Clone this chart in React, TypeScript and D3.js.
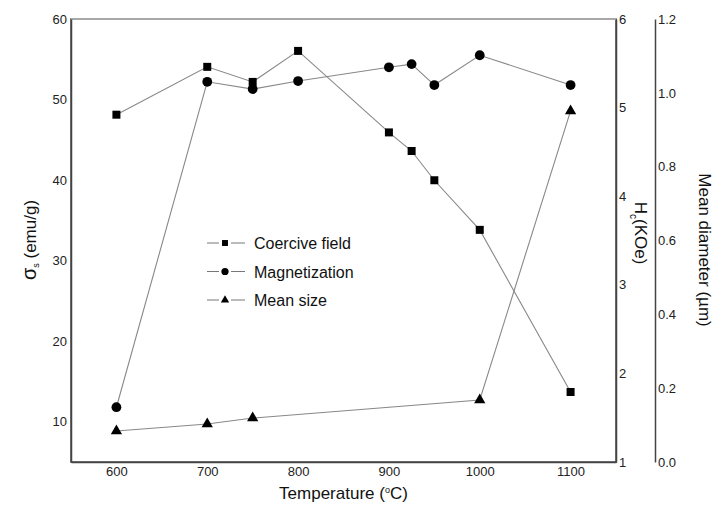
import * as d3 from 'd3';
import React, { useRef, useEffect } from 'react';

// temperatures (°C)
const tempsHc = [600, 700, 750, 800, 900, 925, 950, 1000, 1100];
const coerciveField = [4.92, 5.46, 5.29, 5.64, 4.72, 4.51, 4.18, 3.62, 1.79];

const tempsMs = [600, 700, 750, 800, 900, 925, 950, 1000, 1100];
const magnetization = [11.8, 52.2, 51.3, 52.3, 54.0, 54.4, 51.8, 55.5, 51.8];

const tempsSize = [600, 700, 750, 1000, 1100];
const meanSize = [0.084, 0.103, 0.119, 0.168, 0.951];

const xTicks = [600, 700, 800, 900, 1000, 1100];
const leftTicks = [10, 20, 30, 40, 50, 60];
const hcTicks = [1, 2, 3, 4, 5, 6];
const sizeTicks = [0, 0.2, 0.4, 0.6, 0.8, 1.0, 1.2];
const legendLabels = ['Coercive field', 'Magnetization', 'Mean size'];

const App = () => {
  const ref = useRef(null);

  useEffect(() => {
    const svg = d3.select(ref.current);
    svg.selectAll('*').remove();

    const margin = { top: 19, left: 71 };
    const w = 545;
    const h = 443;
    const font = 'Liberation Sans, Arial, sans-serif';

    const g = svg.append('g')
      .attr('transform', `translate(${margin.left}, ${margin.top})`);

    // scales
    const x = d3.scaleLinear().domain([550, 1150]).range([0, w]);
    const yLeft = d3.scaleLinear().domain([5, 60]).range([h, 0]);
    const yHc = d3.scaleLinear().domain([1, 6]).range([h, 0]);
    const ySize = d3.scaleLinear().domain([0, 1.2]).range([h, 0]);

    // box
    g.append('rect')
      .attr('width', w)
      .attr('height', h)
      .attr('fill', 'none')
      .attr('stroke', '#444')
      .attr('stroke-width', 1.5);
    g.append('line')
      .attr('x1', 0).attr('x2', w).attr('y1', 0).attr('y2', 0)
      .attr('stroke', '#bbb').attr('stroke-width', 1.5);

    // axes (labels only, no tick marks)
    const xAxis = d3.axisBottom(x).tickValues(xTicks).tickSize(0).tickPadding(5)
      .tickFormat(d3.format('d'));
    g.append('g').attr('transform', `translate(0, ${h})`).call(xAxis);

    const leftAxis = d3.axisLeft(yLeft).tickValues(leftTicks).tickSize(0).tickPadding(4)
      .tickFormat(d3.format('d'));
    g.append('g').call(leftAxis);

    const hcAxis = d3.axisRight(yHc).tickValues(hcTicks).tickSize(0).tickPadding(3)
      .tickFormat(d3.format('d'));
    g.append('g').attr('transform', `translate(${w}, 0)`).call(hcAxis);

    const sizeAxis = d3.axisRight(ySize).tickValues(sizeTicks).tickSize(0).tickPadding(3)
      .tickFormat(d3.format('.1f'));
    g.append('g').attr('transform', `translate(${w + 39}, 0)`).call(sizeAxis);

    g.selectAll('.domain').attr('stroke', '#444').attr('stroke-width', 1.5);
    g.selectAll('.tick text')
      .attr('font-family', font)
      .attr('font-size', 13)
      .attr('fill', '#222');

    // series
    const series = [
      { xs: tempsHc, ys: coerciveField, y: yHc, shape: d3.symbolSquare, size: 64 },
      { xs: tempsMs, ys: magnetization, y: yLeft, shape: d3.symbolCircle, size: 75 },
      { xs: tempsSize, ys: meanSize, y: ySize, shape: d3.symbolTriangle, size: 55 },
    ];

    series.forEach((s) => {
      const pts = s.xs.map((t, i) => [x(t), s.y(s.ys[i])] as [number, number]);
      g.append('path')
        .attr('d', d3.line()(pts))
        .attr('fill', 'none')
        .attr('stroke', '#888')
        .attr('stroke-width', 1.1);
      g.selectAll(null)
        .data(pts)
        .enter()
        .append('path')
        .attr('d', d3.symbol().type(s.shape).size(s.size)())
        .attr('transform', (d) => `translate(${d[0]}, ${d[1]})`)
        .attr('fill', '#000');
    });

    // legend
    const legend = g.append('g').attr('transform', 'translate(136, 224)');
    series.forEach((s, i) => {
      const row = legend.append('g').attr('transform', `translate(0, ${i * 28.5})`);
      row.append('line').attr('x1', 0).attr('x2', 12).attr('stroke', '#777');
      row.append('line').attr('x1', 24).attr('x2', 38).attr('stroke', '#777');
      row.append('path')
        .attr('d', d3.symbol().type(s.shape).size(s.size * 0.55)())
        .attr('transform', 'translate(18, 0)')
        .attr('fill', '#000');
      row.append('text')
        .attr('x', 47)
        .attr('y', 6)
        .attr('font-family', font)
        .attr('font-size', 16)
        .attr('fill', '#111')
        .text(legendLabels[i]);
    });

    // axis titles
    const xt = svg.append('text')
      .attr('x', margin.left + w / 2)
      .attr('y', 499)
      .attr('text-anchor', 'middle')
      .attr('font-family', font)
      .attr('font-size', 17)
      .attr('fill', '#111');
    xt.append('tspan').text('Temperature (');
    xt.append('tspan').attr('font-size', 9).attr('dy', -6).text('o');
    xt.append('tspan').attr('dy', 6).text('C)');

    const lt = svg.append('text')
      .attr('transform', 'translate(36, 240) rotate(-90)')
      .attr('text-anchor', 'middle')
      .attr('font-family', font)
      .attr('font-size', 17)
      .attr('fill', '#111');
    lt.append('tspan').attr('font-size', 20).text('σ');
    lt.append('tspan').attr('font-size', 9).attr('dy', 3).text('s');
    lt.append('tspan').attr('dy', -3).text(' (emu/g)');

    const ht = svg.append('text')
      .attr('transform', 'translate(635, 233) rotate(90)')
      .attr('text-anchor', 'middle')
      .attr('font-family', font)
      .attr('font-size', 17)
      .attr('fill', '#111');
    ht.append('tspan').text('H');
    ht.append('tspan').attr('font-size', 10).attr('dy', 5).text('c');
    ht.append('tspan').attr('dy', -5).text('(KOe)');

    svg.append('text')
      .attr('transform', 'translate(699, 250) rotate(90)')
      .attr('text-anchor', 'middle')
      .attr('font-family', font)
      .attr('font-size', 17)
      .attr('fill', '#111')
      .text('Mean diameter (µm)');
  }, []);

  return (
    <svg
      ref={ref}
      width={717}
      height={506}
      style={{ position: 'absolute', left: 0, top: 0, background: '#fff' }}
    />
  );
};

export default App;
